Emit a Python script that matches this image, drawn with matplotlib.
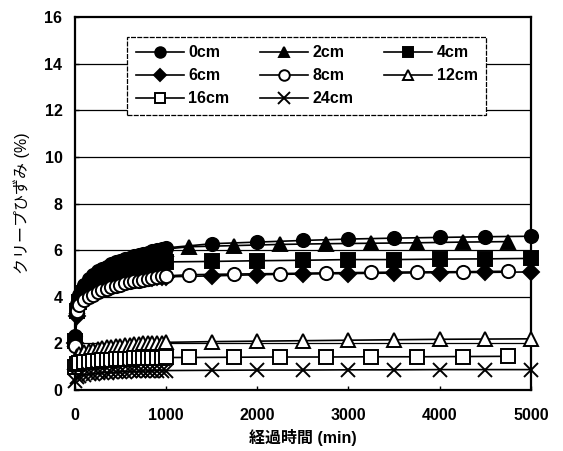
import matplotlib
matplotlib.use('Agg')
from matplotlib import pyplot as plt

plt.rcParams['font.family'] = ['Liberation Sans', 'Noto Sans CJK JP', 'DejaVu Sans']

# Early readings (0 - 1000 min) shared by all depths
t_early = [0, 25, 50, 100, 150, 200, 250, 300, 350, 400, 450,
           500, 550, 600, 650, 700, 750, 800, 850, 900, 950, 1000]
# Later readings: two schedules
t_late_a = [1500, 2000, 2500, 3000, 3500, 4000, 4500, 5000]
t_late_b = [1250, 1750, 2250, 2750, 3250, 3750, 4250, 4750]

labels = ['0cm', '2cm', '4cm', '6cm', '8cm', '12cm', '16cm', '24cm']

cm0 = [2.3, 3.7, 4.1, 4.5, 4.75, 4.95, 5.1, 5.2, 5.3, 5.4, 5.5,
       5.55, 5.62, 5.68, 5.74, 5.8, 5.85, 5.9, 5.95, 6.0, 6.05, 6.1,
       6.28, 6.35, 6.42, 6.48, 6.52, 6.55, 6.58, 6.6]
cm2 = [2.2, 3.6, 4.0, 4.4, 4.65, 4.85, 5.0, 5.1, 5.2, 5.3, 5.4,
       5.48, 5.55, 5.62, 5.68, 5.74, 5.8, 5.85, 5.9, 5.95, 6.0, 6.05,
       6.15, 6.2, 6.25, 6.28, 6.3, 6.32, 6.35, 6.37]
cm4 = [2.1, 3.4, 3.8, 4.15, 4.4, 4.6, 4.75, 4.85, 4.95, 5.02, 5.1,
       5.15, 5.2, 5.25, 5.3, 5.33, 5.37, 5.4, 5.43, 5.46, 5.48, 5.5,
       5.52, 5.55, 5.57, 5.6, 5.6, 5.62, 5.63, 5.65]
cm6 = [2.0, 3.2, 3.6, 3.95, 4.15, 4.3, 4.42, 4.5, 4.57, 4.62, 4.66,
       4.7, 4.72, 4.75, 4.77, 4.79, 4.8, 4.82, 4.83, 4.84, 4.85, 4.86,
       4.9, 4.95, 4.98, 5.0, 5.02, 5.04, 5.05, 5.07]
cm8 = [1.9, 3.4, 3.65, 3.85, 4.0, 4.1, 4.2, 4.28, 4.35, 4.42, 4.48,
       4.53, 4.58, 4.62, 4.66, 4.7, 4.74, 4.78, 4.82, 4.85, 4.88, 4.9,
       4.95, 4.98, 5.0, 5.03, 5.05, 5.07, 5.08, 5.1]
cm12 = [1.2, 1.45, 1.55, 1.62, 1.68, 1.72, 1.76, 1.8, 1.83, 1.86, 1.88,
        1.9, 1.92, 1.94, 1.96, 1.98, 2.0, 2.01, 2.02, 2.03, 2.04, 2.05,
        2.08, 2.1, 2.12, 2.14, 2.16, 2.18, 2.19, 2.2]
cm16 = [1.0, 1.12, 1.16, 1.2, 1.22, 1.25, 1.27, 1.29, 1.3, 1.31, 1.32,
        1.33, 1.34, 1.35, 1.36, 1.37, 1.37, 1.38, 1.38, 1.39, 1.39, 1.4,
        1.4, 1.41, 1.42, 1.42, 1.43, 1.43, 1.44, 1.45]
cm24 = [0.4, 0.55, 0.6, 0.65, 0.68, 0.7, 0.72, 0.74, 0.75, 0.76, 0.77,
        0.78, 0.79, 0.8, 0.8, 0.81, 0.82, 0.82, 0.83, 0.83, 0.84, 0.84,
        0.85, 0.86, 0.86, 0.87, 0.87, 0.88, 0.88, 0.88]

series = [cm0, cm2, cm4, cm6, cm8, cm12, cm16, cm24]
schedule = ['a', 'b', 'a', 'a', 'b', 'a', 'b', 'a']
markers = ['o', '^', 's', 'D', 'o', '^', 's', 'x']
filled = [True, True, True, True, False, False, False, True]

fig = plt.figure(figsize=(5.63, 4.51), dpi=100)
ax = fig.add_axes([0.133, 0.135, 0.81, 0.827])

for y in range(2, 16, 2):
    ax.axhline(y, color='black', lw=0.9, zorder=1)

handles = []
for lab, vals, sch, mk, fl in zip(labels, series, schedule, markers, filled):
    t = t_early + (t_late_a if sch == 'a' else t_late_b)
    ms = 8 if mk == 'D' else 9.5
    if mk == 'x':
        ms = 10
    h, = ax.plot(t, vals, color='black', lw=1.2, marker=mk, markersize=ms,
                 markerfacecolor='black' if fl else 'white',
                 markeredgecolor='black', markeredgewidth=1.4,
                 label=lab, zorder=3, clip_on=False)
    handles.append(h)

ax.set_xlim(0, 5000)
ax.set_ylim(0, 16)
ax.set_xticks(range(0, 5001, 1000))
ax.set_yticks(range(0, 17, 2))
ax.tick_params(direction='in', length=3, width=1, labelsize=11.5, pad=9)
ax.tick_params(axis='x', pad=13)
for lbl in ax.get_xticklabels() + ax.get_yticklabels():
    lbl.set_fontweight('bold')
for sp in ax.spines.values():
    sp.set_linewidth(1.6)

ax.set_xlabel('経過時間 (min)', fontsize=11.5, fontweight='bold', labelpad=4)
ax.set_ylabel('クリープひずみ (%)', fontsize=11.5, labelpad=10)

order = [0, 3, 6, 1, 4, 7, 2, 5]
leg = ax.legend([handles[i] for i in order], [labels[i] for i in order],
                ncol=3, loc='upper left', bbox_to_anchor=(0.114, 0.948),
                borderaxespad=0, fancybox=False, framealpha=1, edgecolor='black',
                prop={'size': 11.5, 'weight': 'bold'}, markerscale=0.8,
                handlelength=3.0, columnspacing=1.9, labelspacing=0.5,
                borderpad=0.55, handletextpad=0.3)
leg.get_frame().set_linestyle((0, (4, 1)))
leg.get_frame().set_linewidth(0.9)

fig.savefig('out.png', dpi=100)
